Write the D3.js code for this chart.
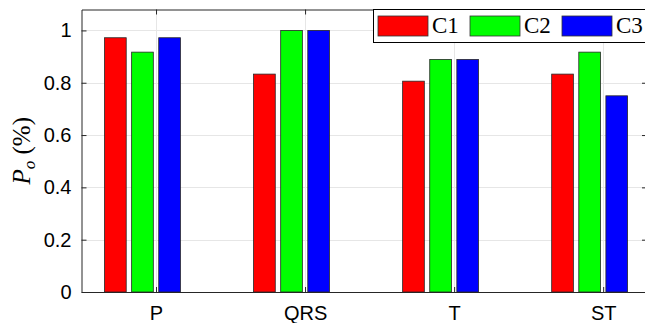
<!DOCTYPE html>
<html>
<head>
<meta charset="utf-8">
<script src="https://cdn.jsdelivr.net/npm/d3@7"></script>
<style>
  html, body { margin: 0; padding: 0; background: #fff; overflow: hidden; }
  svg { display: block; }
</style>
</head>
<body>
<svg id="chart" width="645" height="323"></svg>
<script>
// values
const categories = ["P", "QRS", "T", "ST"];
const seriesNames = ["C1", "C2", "C3"];
const seriesColors = ["#ff0000", "#00ff00", "#0000ff"];
const c1Values = [0.972, 0.833, 0.806, 0.833];
const c2Values = [0.917, 1.0, 0.889, 0.917];
const c3Values = [0.972, 1.0, 0.889, 0.75];
const yTicks = [0, 0.2, 0.4, 0.6, 0.8, 1];

const series = [c1Values, c2Values, c3Values];

const plotLeft = 81.5, plotRight = 647, plotTop = 9.5, plotBottom = 292;
const slots = 4; // grouped bar reserves a 4th (empty) slot per group

const svg = d3.select("#chart");

const x = d3.scaleLinear().domain([0.5, 4.294]).range([plotLeft, plotRight]);
const y = d3.scaleLinear().domain([0, 1.08]).range([plotBottom, plotTop]);

// grouped bar geometry (matlab style)
const groupWidth = Math.min(0.8, slots / (slots + 1.5));
const pitch = groupWidth / slots;
const barW = pitch * 0.8;
const offset = i => (i - (slots - 1) / 2) * pitch;

// grid
const grid = svg.append("g").attr("stroke", "#e6e6e6").attr("stroke-width", 1);
grid.selectAll("line.h").data(yTicks).join("line")
  .attr("x1", plotLeft).attr("x2", plotRight)
  .attr("y1", d => Math.round(y(d)) + 0.5).attr("y2", d => Math.round(y(d)) + 0.5);
grid.selectAll("line.v").data(categories).join("line")
  .attr("y1", plotTop).attr("y2", plotBottom)
  .attr("x1", (d, i) => Math.round(x(i + 1)) + 0.5).attr("x2", (d, i) => Math.round(x(i + 1)) + 0.5);

// bars
series.forEach((vals, s) => {
  svg.append("g")
    .selectAll("rect")
    .data(vals)
    .join("rect")
    .attr("x", (d, i) => x(i + 1 + offset(s) - barW / 2))
    .attr("width", x(barW) - x(0))
    .attr("y", d => y(d))
    .attr("height", d => y(0) - y(d))
    .attr("fill", seriesColors[s])
    .attr("stroke", "#262626")
    .attr("stroke-width", 0.8);
});

// axes
const axisColor = "#262626";
const tickFont = "'Liberation Sans', Arial, sans-serif";

const yAxis = svg.append("g")
  .attr("transform", `translate(${plotLeft},0)`)
  .call(d3.axisLeft(y).tickValues(yTicks).tickSizeInner(-5).tickSizeOuter(0).tickPadding(10)
    .tickFormat(d => d === 0 || d === 1 ? d3.format("d")(d) : d3.format(".1f")(d)));
yAxis.select(".domain").attr("stroke", axisColor);
yAxis.selectAll(".tick line").attr("stroke", axisColor);
yAxis.selectAll("text").attr("font-family", tickFont).attr("font-size", 20).attr("fill", "#000");

const yAxisR = svg.append("g")
  .attr("transform", `translate(${plotRight},0)`)
  .call(d3.axisRight(y).tickValues(yTicks).tickSizeInner(-5).tickSizeOuter(0).tickFormat(""));
yAxisR.select(".domain").attr("stroke", axisColor);
yAxisR.selectAll(".tick line").attr("stroke", axisColor);

const xAxis = svg.append("g")
  .attr("transform", `translate(0,${plotBottom})`)
  .call(d3.axisBottom(x).tickValues([1, 2, 3, 4]).tickSizeInner(-5).tickSizeOuter(0).tickPadding(14)
    .tickFormat(d => categories[d - 1]));
xAxis.select(".domain").attr("stroke", axisColor);
xAxis.selectAll(".tick line").attr("stroke", axisColor);
xAxis.selectAll("text").attr("font-family", tickFont).attr("font-size", 20).attr("fill", "#000");

const xAxisT = svg.append("g")
  .attr("transform", `translate(0,${plotTop})`)
  .call(d3.axisTop(x).tickValues([1, 2, 3, 4]).tickSizeInner(-5).tickSizeOuter(0).tickFormat(""));
xAxisT.select(".domain").attr("stroke", axisColor);
xAxisT.selectAll(".tick line").attr("stroke", axisColor);

// y label
const ylab = svg.append("text")
  .attr("transform", `translate(30,${(plotTop + plotBottom) / 2}) rotate(-90)`)
  .attr("text-anchor", "middle")
  .attr("font-family", "'Liberation Serif', 'Times New Roman', serif")
  .attr("font-size", 25)
  .attr("fill", "#000");
ylab.append("tspan").attr("font-style", "italic").text("P");
ylab.append("tspan").attr("font-style", "italic").attr("font-size", 17).attr("dy", 5).text("o");
ylab.append("tspan").attr("dy", -5).text(" (%)");

// legend
const legend = svg.append("g");
legend.append("rect")
  .attr("x", 373.5).attr("y", plotTop).attr("width", 290).attr("height", 33)
  .attr("fill", "#fff").attr("stroke", "#000").attr("stroke-width", 1);
const legendX = [378, 470, 562];
seriesNames.forEach((name, i) => {
  legend.append("rect")
    .attr("x", legendX[i]).attr("y", 16).attr("width", 50).attr("height", 20)
    .attr("fill", seriesColors[i]).attr("stroke", "#333").attr("stroke-width", 0.8);
  legend.append("text")
    .attr("x", legendX[i] + 54).attr("y", 33)
    .attr("font-family", "'Liberation Serif', 'Times New Roman', serif")
    .attr("font-size", 23)
    .attr("fill", "#000")
    .text(name);
});
</script>
</body>
</html>
